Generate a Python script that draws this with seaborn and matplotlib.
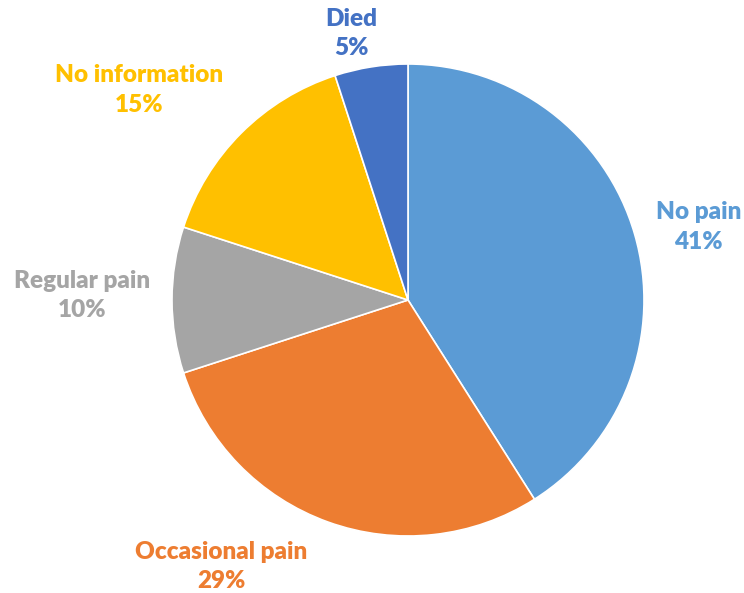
import matplotlib
matplotlib.use("Agg")
import matplotlib.pyplot as plt
import seaborn as sns

categories = ['No pain', 'Occasional pain', 'Regular pain', 'No information', 'Died']
percents = [41, 29, 10, 15, 5]
colors = ['#5B9BD5', '#ED7D31', '#A5A5A5', '#FFC000', '#4472C4']

# label anchor points in pie-radius units
label_pos = {
    'No pain': (1.23, 0.31),
    'Occasional pain': (-0.79, -1.13),
    'Regular pain': (-1.38, 0.02),
    'No information': (-1.14, 0.89),
    'Died': (-0.24, 1.13),
}

sns.set_style("white")
palette = sns.color_palette(colors)

fig = plt.figure(figsize=(7.44, 5.93), dpi=100)
r_px = 236
cx, cy = 408, 593 - 300
ax = fig.add_axes([(cx - r_px) / 744, (cy - r_px) / 593, 2 * r_px / 744, 2 * r_px / 593])

ax.pie(percents, colors=palette, startangle=90, counterclock=False,
       radius=1, wedgeprops=dict(edgecolor='white', linewidth=1.2))
ax.set_xlim(-1, 1)
ax.set_ylim(-1, 1)
ax.set_aspect('equal')
ax.axis('off')

for name, val, col in zip(categories, percents, colors):
    x, y = label_pos[name]
    ax.text(x, y, f'{name}\n{val}%', ha='center', va='center', color=col,
            fontsize=17.5, fontweight='heavy', family=['Lato', 'DejaVu Sans'],
            linespacing=1.42, clip_on=False)

fig.savefig('out.png', dpi=100)
